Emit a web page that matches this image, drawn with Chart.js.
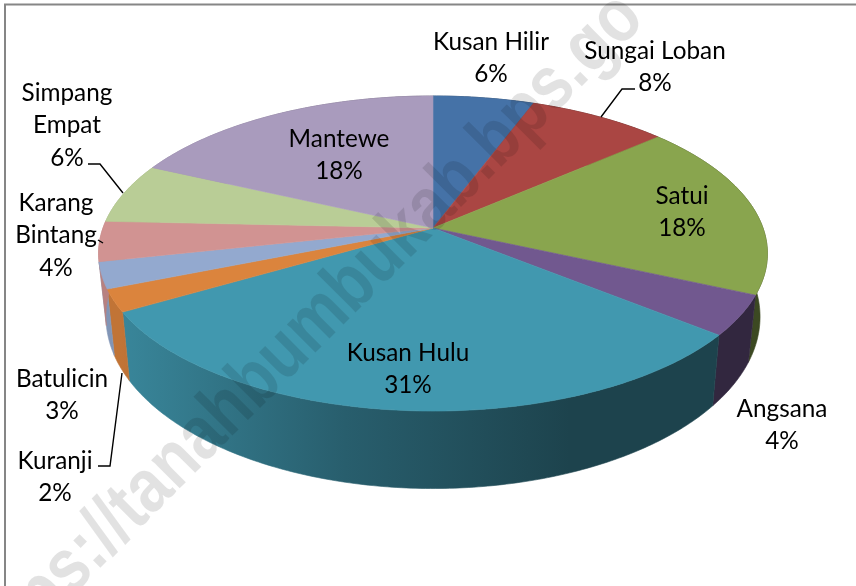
<!DOCTYPE html>
<html>
<head>
<meta charset="utf-8">
<style>html,body{margin:0;padding:0;background:#fff}#w{position:relative;width:856px;height:586px}</style>
<script src="https://cdn.jsdelivr.net/npm/chart.js@4/dist/chart.umd.min.js"></script>
</head>
<body>
<div id="w"><canvas id="c" width="856" height="586"></canvas></div>
<script>
// Data
const categories = ['Kusan Hilir','Sungai Loban','Satui','Angsana','Kusan Hulu','Kuranji','Batulicin','Karang Bintang','Simpang Empat','Mantewe'];
const values = [5.7,7.9,18.1,4.1,30.8,2.3,2.7,4.1,6.2,18.1];
const colors = ['#4572a7','#aa4643','#89a54e','#71588f','#4198af','#db843d','#93a9cf','#d19392','#b9cd96','#a99bbd'];
// Label wrapping and placement (centre x, first line y)
const labelLines = [['Kusan Hilir'],['Sungai Loban'],['Satui'],['Angsana'],['Kusan Hulu'],['Kuranji'],['Batulicin'],['Karang','Bintang'],['Simpang','Empat'],['Mantewe']];
const labelPos = [[491,42],[655,51],[682,196],[782,409],[408,353],[55,461],[62,379],[56,203],[67,93],[339,139]];
const leaders = [
  [[635,89],[622,89],[601,117]],
  [[88,164],[100,164],[123,193]],
  [[98,240],[103,243]],
  [[98,466],[110,466],[122,373]]
];
const watermark = 'https://tanahbumbukab.bps.go';

// Projection of the pie disc (perspective view)
const PX = 330/132, PY = 153.4/132, PK = 0.162;
const SX = 0.978, SY = 1.09, DY = 61;

function proj(arc, t, lower){
  const c = Math.cos(t), s = Math.sin(t), r = arc.outerRadius, d = 1 - PK*s;
  let x = PX*r*c/d, y = PY*r*s/d;
  if (lower){ x *= SX; y = y*SY + DY; }
  return [arc.x + x, arc.y + y];
}
function shade(hex, f){
  const n = parseInt(hex.slice(1),16);
  return `rgb(${Math.round((n>>16&255)*f)},${Math.round((n>>8&255)*f)},${Math.round((n&255)*f)})`;
}
function samples(arc){
  const n = Math.max(4, Math.ceil((arc.endAngle-arc.startAngle)*80)), out=[];
  for(let i=0;i<=n;i++) out.push(arc.startAngle+(arc.endAngle-arc.startAngle)*i/n);
  return out;
}
const pie3d = {
  id:'pie3d',
  beforeDraw(chart){
    const g = chart.ctx;
    g.save();
    g.fillStyle='#fff'; g.fillRect(0,0,856,586);
    g.strokeStyle='#868686'; g.lineWidth=2;
    g.beginPath(); g.moveTo(5,586); g.lineTo(5,4.5); g.lineTo(856,4.5); g.stroke();
    g.restore();
  },
  beforeDatasetDraw(chart){
    const g = chart.ctx, arcs = chart.getDatasetMeta(0).data;
    g.save();
    // walls
    arcs.forEach(arc=>{
      const col = arc.options.backgroundColor, ts = samples(arc);
      const grad = g.createLinearGradient(120,0,570,0);
      grad.addColorStop(0, shade(col,0.88));
      grad.addColorStop(0.5, shade(col,0.62));
      grad.addColorStop(1, shade(col,0.44));
      g.fillStyle = grad; g.strokeStyle = grad; g.lineWidth = 0.6;
      g.beginPath();
      ts.forEach((t,i)=>{ const p=proj(arc,t,false); i?g.lineTo(p[0],p[1]):g.moveTo(p[0],p[1]); });
      ts.slice().reverse().forEach(t=>{ const p=proj(arc,t,true); g.lineTo(p[0],p[1]); });
      g.closePath(); g.fill(); g.stroke();
    });
    // top faces
    arcs.forEach(arc=>{
      const col = arc.options.backgroundColor;
      g.fillStyle = col; g.strokeStyle = col; g.lineWidth = 0.6;
      g.beginPath(); g.moveTo(arc.x, arc.y);
      samples(arc).forEach(t=>{ const p=proj(arc,t,false); g.lineTo(p[0],p[1]); });
      g.closePath(); g.fill(); g.stroke();
    });
    g.restore();
    return false;
  },
  afterDraw(chart){
    const g = chart.ctx, total = values.reduce((a,b)=>a+b,0);
    g.save();
    g.fillStyle='#000'; g.textAlign='center'; g.textBaseline='middle';
    g.font='24.3px Lato, "Open Sans", sans-serif';
    categories.forEach((_,i)=>{
      const lines = labelLines[i].concat(Math.round(values[i]/total*100)+'%');
      lines.forEach((l,j)=>g.fillText(l,labelPos[i][0],labelPos[i][1]+j*32.5));
    });
    g.strokeStyle='#000'; g.lineWidth=1.4;
    leaders.forEach(pts=>{
      g.beginPath();
      pts.forEach((p,i)=>i?g.lineTo(p[0],p[1]):g.moveTo(p[0],p[1]));
      g.stroke();
    });
    // watermark
    g.translate(-14.5,682.5); g.rotate(-Math.PI/4); g.scale(0.842,1);
    g.fillStyle='rgba(0,0,0,0.115)';
    g.font='bold 76px "Liberation Sans", Arial, sans-serif';
    g.textAlign='left'; g.textBaseline='alphabetic';
    g.fillText(watermark,0,0);
    g.restore();
  }
};
new Chart(document.getElementById('c'),{
  type:'pie',
  data:{labels:categories,datasets:[{data:values,backgroundColor:colors,borderWidth:0}]},
  options:{
    responsive:false,animation:false,
    layout:{padding:{top:96,bottom:226,left:10,right:0}},
    plugins:{legend:{display:false},tooltip:{enabled:false}},
    events:[]
  },
  plugins:[pie3d]
});
</script>
</body>
</html>
